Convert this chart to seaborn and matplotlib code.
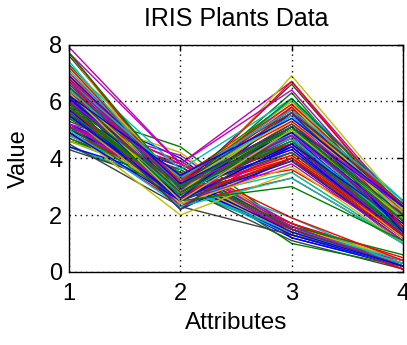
import numpy as np
import pandas as pd
import matplotlib
matplotlib.use("Agg")
import matplotlib.pyplot as plt
import seaborn as sns

# Fisher's iris measurements, one line per plant (50 setosa, 50 versicolor, 50 virginica)
attributes = [1, 2, 3, 4]

sepal_length = [
    5.1, 4.9, 4.7, 4.6, 5.0, 5.4, 4.6, 5.0, 4.4, 4.9, 5.4, 4.8, 4.8, 4.3, 5.8, 5.7, 5.4, 5.1, 5.7, 5.1,
    5.4, 5.1, 4.6, 5.1, 4.8, 5.0, 5.0, 5.2, 5.2, 4.7, 4.8, 5.4, 5.2, 5.5, 4.9, 5.0, 5.5, 4.9, 4.4, 5.1,
    5.0, 4.5, 4.4, 5.0, 5.1, 4.8, 5.1, 4.6, 5.3, 5.0,
    7.0, 6.4, 6.9, 5.5, 6.5, 5.7, 6.3, 4.9, 6.6, 5.2, 5.0, 5.9, 6.0, 6.1, 5.6, 6.7, 5.6, 5.8, 6.2, 5.6,
    5.9, 6.1, 6.3, 6.1, 6.4, 6.6, 6.8, 6.7, 6.0, 5.7, 5.5, 5.5, 5.8, 6.0, 5.4, 6.0, 6.7, 6.3, 5.6, 5.5,
    5.5, 6.1, 5.8, 5.0, 5.6, 5.7, 5.7, 6.2, 5.1, 5.7,
    6.3, 5.8, 7.1, 6.3, 6.5, 7.6, 4.9, 7.3, 6.7, 7.2, 6.5, 6.4, 6.8, 5.7, 5.8, 6.4, 6.5, 7.7, 7.7, 6.0,
    6.9, 5.6, 7.7, 6.3, 6.7, 7.2, 6.2, 6.1, 6.4, 7.2, 7.4, 7.9, 6.4, 6.3, 6.1, 7.7, 6.3, 6.4, 6.0, 6.9,
    6.7, 6.9, 5.8, 6.8, 6.7, 6.7, 6.3, 6.5, 6.2, 5.9,
]
sepal_width = [
    3.5, 3.0, 3.2, 3.1, 3.6, 3.9, 3.4, 3.4, 2.9, 3.1, 3.7, 3.4, 3.0, 3.0, 4.0, 4.4, 3.9, 3.5, 3.8, 3.8,
    3.4, 3.7, 3.6, 3.3, 3.4, 3.0, 3.4, 3.5, 3.4, 3.2, 3.1, 3.4, 4.1, 4.2, 3.1, 3.2, 3.5, 3.1, 3.0, 3.4,
    3.5, 2.3, 3.2, 3.5, 3.8, 3.0, 3.8, 3.2, 3.7, 3.3,
    3.2, 3.2, 3.1, 2.3, 2.8, 2.8, 3.3, 2.4, 2.9, 2.7, 2.0, 3.0, 2.2, 2.9, 2.9, 3.1, 3.0, 2.7, 2.2, 2.5,
    3.2, 2.8, 2.5, 2.8, 2.9, 3.0, 2.8, 3.0, 2.9, 2.6, 2.4, 2.4, 2.7, 2.7, 3.0, 3.4, 3.1, 2.3, 3.0, 2.5,
    2.6, 3.0, 2.6, 2.3, 2.7, 3.0, 2.9, 2.9, 2.5, 2.8,
    3.3, 2.7, 3.0, 2.9, 3.0, 3.0, 2.5, 2.9, 2.5, 3.6, 3.2, 2.7, 3.0, 2.5, 2.8, 3.2, 3.0, 3.8, 2.6, 2.2,
    3.2, 2.8, 2.8, 2.7, 3.3, 3.2, 2.8, 3.0, 2.8, 3.0, 2.8, 3.8, 2.8, 2.8, 2.6, 3.0, 3.4, 3.1, 3.0, 3.1,
    3.1, 3.1, 2.7, 3.2, 3.3, 3.0, 2.5, 3.0, 3.4, 3.0,
]
petal_length = [
    1.4, 1.4, 1.3, 1.5, 1.4, 1.7, 1.4, 1.5, 1.4, 1.5, 1.5, 1.6, 1.4, 1.1, 1.2, 1.5, 1.3, 1.4, 1.7, 1.5,
    1.7, 1.5, 1.0, 1.7, 1.9, 1.6, 1.6, 1.5, 1.4, 1.6, 1.6, 1.5, 1.5, 1.4, 1.5, 1.2, 1.3, 1.5, 1.3, 1.5,
    1.3, 1.3, 1.3, 1.6, 1.9, 1.4, 1.6, 1.4, 1.5, 1.4,
    4.7, 4.5, 4.9, 4.0, 4.6, 4.5, 4.7, 3.3, 4.6, 3.9, 3.5, 4.2, 4.0, 4.7, 3.6, 4.4, 4.5, 4.1, 4.5, 3.9,
    4.8, 4.0, 4.9, 4.7, 4.3, 4.4, 4.8, 5.0, 4.5, 3.5, 3.8, 3.7, 3.9, 5.1, 4.5, 4.5, 4.7, 4.4, 4.1, 4.0,
    4.4, 4.6, 4.0, 3.3, 4.2, 4.2, 4.2, 4.3, 3.0, 4.1,
    6.0, 5.1, 5.9, 5.6, 5.8, 6.6, 4.5, 6.3, 5.8, 6.1, 5.1, 5.3, 5.5, 5.0, 5.1, 5.3, 5.5, 6.7, 6.9, 5.0,
    5.7, 4.9, 6.7, 4.9, 5.7, 6.0, 4.8, 4.9, 5.6, 5.8, 6.1, 6.4, 5.6, 5.1, 5.6, 6.1, 5.6, 5.5, 4.8, 5.4,
    5.6, 5.1, 5.1, 5.9, 5.7, 5.2, 5.0, 5.2, 5.4, 5.1,
]
petal_width = [
    0.2, 0.2, 0.2, 0.2, 0.2, 0.4, 0.3, 0.2, 0.2, 0.1, 0.2, 0.2, 0.1, 0.1, 0.2, 0.4, 0.4, 0.3, 0.3, 0.3,
    0.2, 0.4, 0.2, 0.5, 0.2, 0.2, 0.4, 0.2, 0.2, 0.2, 0.2, 0.4, 0.1, 0.2, 0.1, 0.2, 0.2, 0.1, 0.2, 0.2,
    0.3, 0.3, 0.2, 0.6, 0.4, 0.3, 0.2, 0.2, 0.2, 0.2,
    1.4, 1.5, 1.5, 1.3, 1.5, 1.3, 1.6, 1.0, 1.3, 1.4, 1.0, 1.5, 1.0, 1.4, 1.3, 1.4, 1.5, 1.0, 1.5, 1.1,
    1.8, 1.3, 1.5, 1.2, 1.3, 1.4, 1.4, 1.7, 1.5, 1.0, 1.1, 1.0, 1.2, 1.6, 1.5, 1.6, 1.5, 1.3, 1.3, 1.3,
    1.2, 1.4, 1.2, 1.0, 1.3, 1.2, 1.3, 1.3, 1.1, 1.3,
    2.5, 1.9, 2.1, 1.8, 2.2, 2.1, 1.7, 1.8, 1.8, 2.5, 2.0, 1.9, 2.1, 2.0, 2.4, 2.3, 1.8, 2.2, 2.3, 1.5,
    2.3, 2.0, 2.0, 1.8, 2.1, 1.8, 1.8, 1.8, 2.1, 1.6, 1.9, 2.0, 2.2, 1.5, 1.4, 2.3, 2.4, 1.8, 1.8, 2.1,
    2.4, 2.3, 1.9, 2.3, 2.5, 2.3, 1.9, 2.0, 2.3, 1.8,
]

# old MATLAB colour order: b, g, r, c, m, y, k
matlab_colors = [(0, 0, 1), (0, 0.5, 0), (1, 0, 0), (0, 0.75, 0.75),
                 (0.75, 0, 0.75), (0.75, 0.75, 0), (0.25, 0.25, 0.25)]
# colour each class starts on (b, r, g), then the order cycles
class_size = 50
class_start_color = [0, 2, 1]

n = len(sepal_length)
assert len(sepal_width) == n and len(petal_length) == n and len(petal_width) == n

values = np.column_stack([sepal_length, sepal_width, petal_length, petal_width])
df = pd.DataFrame({
    "sample": np.repeat(np.arange(n), len(attributes)),
    "attribute": np.tile(attributes, n),
    "value": values.ravel(),
})
palette = [matlab_colors[(class_start_color[i // class_size] + i % class_size) % 7]
           for i in range(n)]

sns.set_theme(style="white")
plt.rcParams["font.family"] = ["Liberation Sans", "DejaVu Sans"]

fig = plt.figure(figsize=(4.07, 3.45), dpi=100)
ax = fig.add_axes([0.170, 0.212, 0.820, 0.659])

sns.lineplot(data=df, x="attribute", y="value", hue="sample", palette=palette,
             estimator=None, sort=False, legend=False, linewidth=1.0, ax=ax)

ax.set_xlim(1, 4)
ax.set_ylim(0, 8)
ax.set_xticks(attributes)
ax.set_yticks([0, 2, 4, 6, 8])
ax.grid(True, linestyle=(0, (1, 3)), color="black", linewidth=1.0)
ax.set_axisbelow(False)
for sp in ax.spines.values():
    sp.set_visible(True)
    sp.set_color("black")
    sp.set_linewidth(1.0)
ax.tick_params(direction="in", length=4, width=1, color="black", top=True, right=True,
               labelsize=17, labelcolor="black")
ax.tick_params(axis="x", pad=8)
ax.tick_params(axis="y", pad=5)

ax.set_title("IRIS Plants Data", fontsize=18, pad=13, color="black")
ax.set_xlabel("Attributes", fontsize=17.5, labelpad=5, color="black")
ax.set_ylabel("Value", fontsize=17, labelpad=14, color="black")

fig.savefig("out.png", dpi=100)
